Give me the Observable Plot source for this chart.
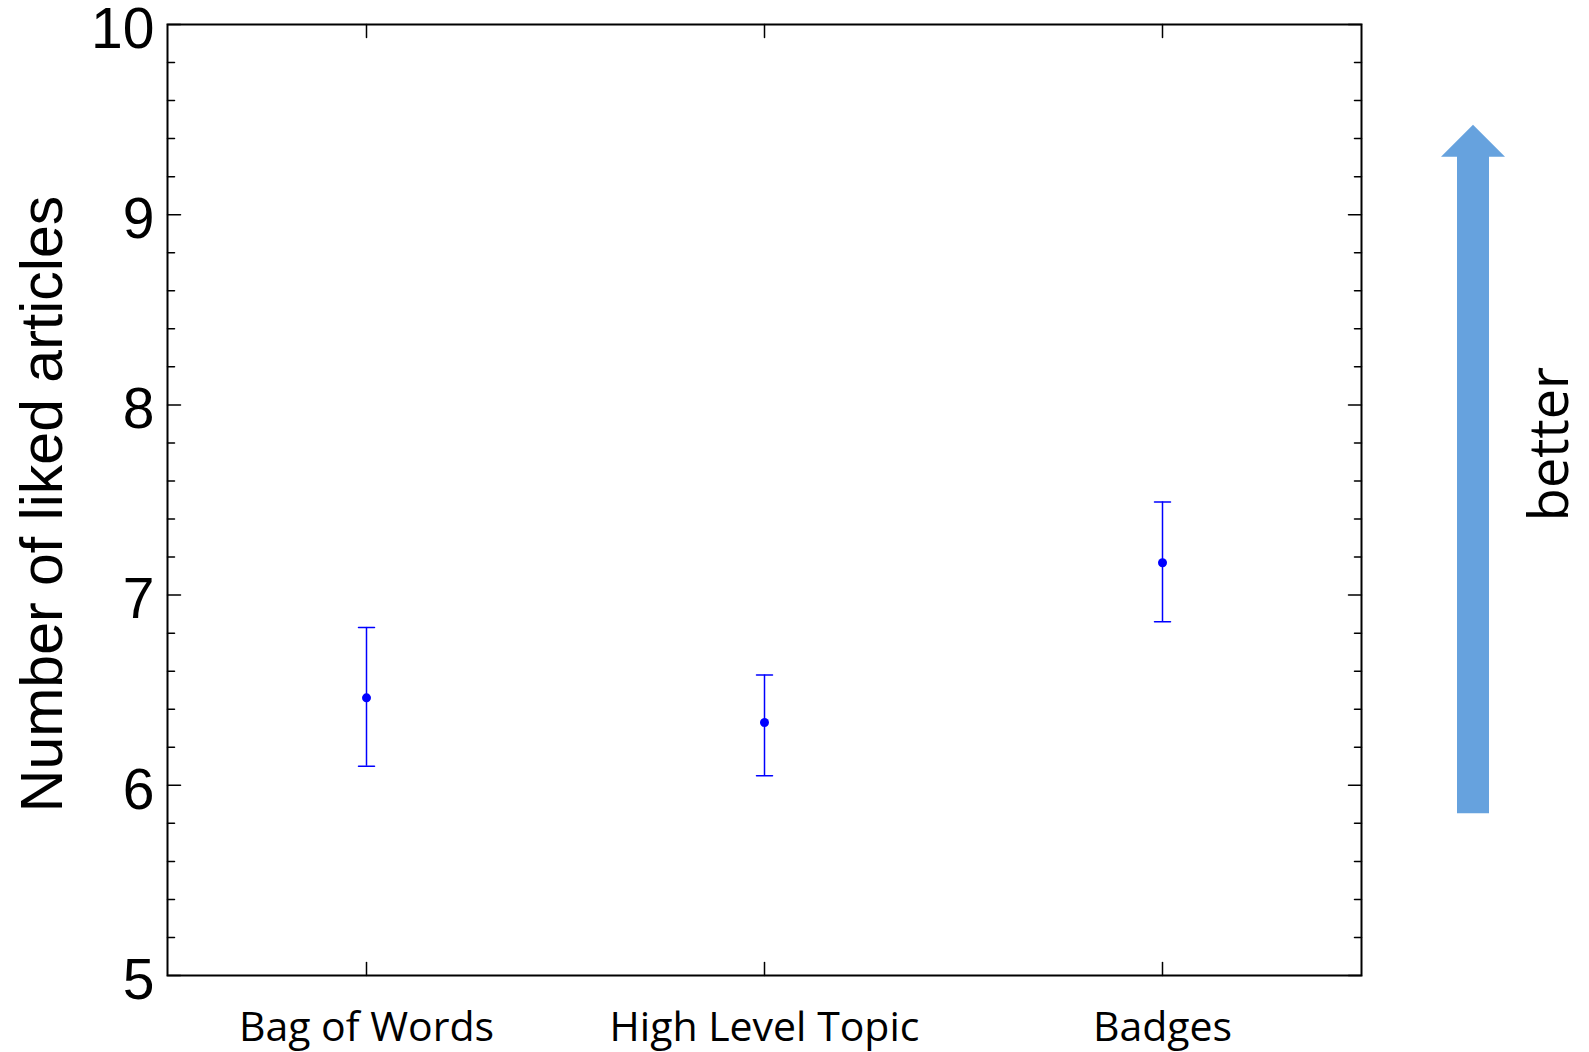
<!DOCTYPE html>
<html><head><meta charset="utf-8">
<script src="https://cdn.jsdelivr.net/npm/d3@7"></script>
<script src="https://cdn.jsdelivr.net/npm/@observablehq/plot@0.6"></script>
<style>body{margin:0;background:#fff}#chart svg{display:block}</style>
</head><body><div id="chart"></div>
<script>
const categories = ["Bag of Words", "High Level Topic", "Badges"];
const means = [6.46, 6.33, 7.17];
const lower = [6.10, 6.05, 6.86];
const upper = [6.83, 6.58, 7.49];
const yMajorTicks = [5, 6, 7, 8, 9, 10];
const yMinorTicks = [5.2, 5.4, 5.6, 5.8, 6.2, 6.4, 6.6, 6.8, 7.2, 7.4, 7.6, 7.8, 8.2, 8.4, 8.6, 8.8, 9.2, 9.4, 9.6, 9.8];
const yLabel = "Number of liked articles";
const arrowLabel = "better";
const arrowFrom = 5.85;
const arrowTo = 9.47;

const data = categories.map((c, i) => ({category: c, mean: means[i], lo: lower[i], hi: upper[i]}));

const lineShape = {draw(ctx, l) { ctx.moveTo(0, 0); ctx.lineTo(0, -l); }};
const BLUE = "#0000ff";
const W = 1589, H = 1052;

function arrowRender(index, scales, values, dimensions) {
  const cx = dimensions.width - dimensions.marginRight + 112;
  const yTip = scales.y(arrowTo), yBase = scales.y(arrowFrom);
  const headLen = 32, headHalf = 32, shaftHalf = 16;
  const d = `M${cx},${yTip}L${cx + headHalf},${yTip + headLen}L${cx + shaftHalf},${yTip + headLen}L${cx + shaftHalf},${yBase}L${cx - shaftHalf},${yBase}L${cx - shaftHalf},${yTip + headLen}L${cx - headHalf},${yTip + headLen}Z`;
  const p = document.createElementNS("http://www.w3.org/2000/svg", "path");
  p.setAttribute("d", d);
  p.setAttribute("fill", "#66a2de");
  return p;
}

const tickStyle = {stroke: "black", strokeWidth: 1.5, shape: lineShape, anchor: "start"};

const chart = Plot.plot({
  width: W,
  height: H,
  marginLeft: 167,
  marginRight: 228,
  marginTop: 24,
  marginBottom: 77,
  style: {background: "white", color: "black"},
  x: {domain: categories, type: "point", padding: 0.5},
  y: {domain: [5, 10]},
  marks: [
    arrowRender,
    Plot.frame({stroke: "black", strokeWidth: 2}),
    // inward ticks
    Plot.vector(yMajorTicks, {y: d => d, frameAnchor: "left", rotate: 90, length: 13, ...tickStyle}),
    Plot.vector(yMinorTicks, {y: d => d, frameAnchor: "left", rotate: 90, length: 7, ...tickStyle}),
    Plot.vector(yMajorTicks, {y: d => d, frameAnchor: "right", rotate: -90, length: 13, ...tickStyle}),
    Plot.vector(yMinorTicks, {y: d => d, frameAnchor: "right", rotate: -90, length: 7, ...tickStyle}),
    Plot.vector(categories, {x: d => d, frameAnchor: "top", rotate: 180, length: 13, ...tickStyle}),
    Plot.vector(categories, {x: d => d, frameAnchor: "bottom", rotate: 0, length: 13, ...tickStyle}),
    Plot.axisY({ticks: yMajorTicks, tickFormat: d3.format("d"), tickSize: 0, tickPadding: 13, fontSize: 57, fontFamily: "Liberation Sans, Arial, sans-serif", label: null, dy: 5, fill: "black"}),
    Plot.axisX({tickSize: 0, tickPadding: 36, fontSize: 41, fontFamily: "Open Sans, sans-serif", label: null, fill: "black"}),
    // error bars
    Plot.ruleX(data, {x: "category", y1: "lo", y2: "hi", stroke: BLUE, strokeWidth: 1.5}),
    Plot.vector(data, {x: "category", y: "hi", rotate: 90, length: 16, anchor: "middle", shape: lineShape, stroke: BLUE, strokeWidth: 1.5}),
    Plot.vector(data, {x: "category", y: "lo", rotate: 90, length: 16, anchor: "middle", shape: lineShape, stroke: BLUE, strokeWidth: 1.5}),
    Plot.dot(data, {x: "category", y: "mean", r: 4.5, fill: BLUE, stroke: null}),
    // labels
    Plot.text([yLabel], {text: d => d, frameAnchor: "left", textAnchor: "middle", dx: -124, dy: 4, rotate: -90, fontSize: 59, fontFamily: "Liberation Sans, Arial, sans-serif", fill: "black"}),
    Plot.text([arrowLabel], {text: d => d, frameAnchor: "right", textAnchor: "middle", dx: 189, dy: -56, rotate: -90, fontSize: 54, fontFamily: "Open Sans, sans-serif", fill: "black"})
  ]
});
document.getElementById("chart").append(chart);
</script>
</body></html>
